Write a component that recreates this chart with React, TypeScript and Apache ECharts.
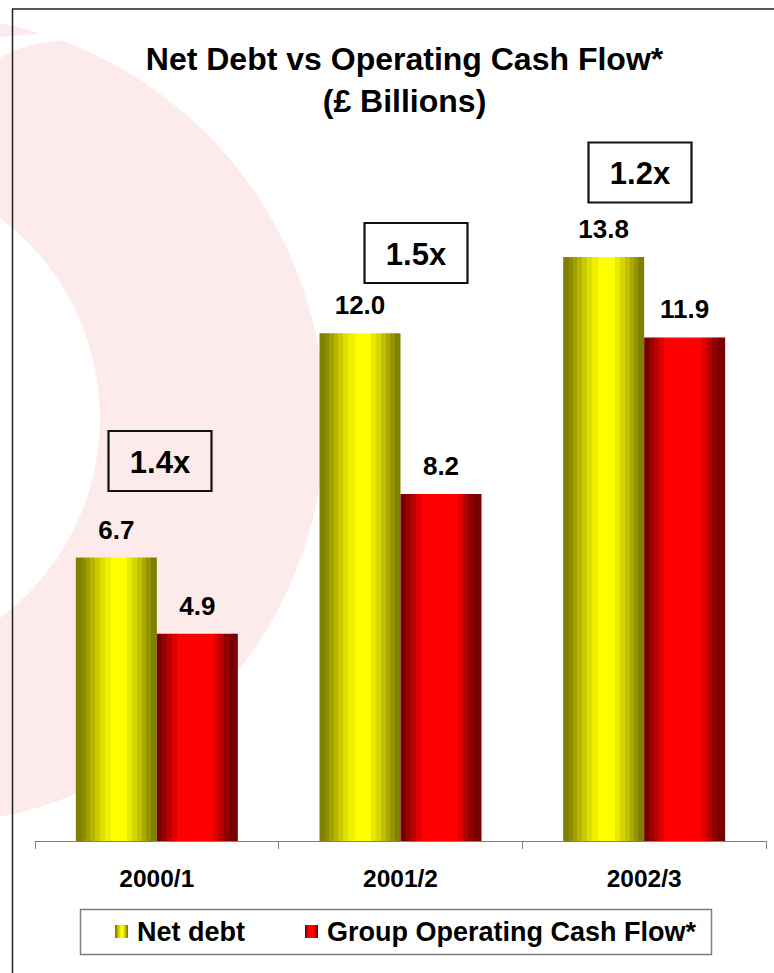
import React, { useEffect, useRef } from 'react';
import * as echarts from 'echarts';

const categories = ['2000/1', '2001/2', '2002/3'];
const netDebt = [6.7, 12.0, 13.8];
const cashFlow = [4.9, 8.2, 11.9];
const ratios = ['1.4x', '1.5x', '1.2x'];
const seriesNames = ['Net debt', 'Group Operating Cash Flow*'];
const titleLines = ['Net Debt vs Operating Cash Flow*', '(£ Billions)'];

// layout (positions of annotation boxes, pixel space)
const ratioBoxPos = [
  [108.5, 431],
  [364.5, 223],
  [588.5, 142.5],
];

const FONT = '"Liberation Sans", Arial, Helvetica, sans-serif';

type Band = [number, number, string];
function stepped(bands: Band[]) {
  const out: { offset: number; color: string }[] = [];
  bands.forEach(([a, b, c]) => {
    out.push({ offset: a, color: c });
    out.push({ offset: b, color: c });
  });
  return out;
}

const yellowBands: Band[] = [
  [0, 0.073, '#7f7f00'],
  [0.073, 0.121, '#8d8d00'],
  [0.121, 0.173, '#a0a000'],
  [0.173, 0.234, '#b5b500'],
  [0.234, 0.294, '#caca00'],
  [0.294, 0.355, '#dede00'],
  [0.355, 0.435, '#efef00'],
  [0.435, 0.637, '#ffff00'],
  [0.637, 0.698, '#eaea00'],
  [0.698, 0.758, '#d5d500'],
  [0.758, 0.819, '#c0c000'],
  [0.819, 0.871, '#a9a900'],
  [0.871, 0.927, '#949400'],
  [0.927, 1, '#7f7f00'],
];

const redBands: Band[] = [
  [0, 0.0625, '#780000'],
  [0.0625, 0.125, '#990000'],
  [0.125, 0.1875, '#bb0000'],
  [0.1875, 0.25, '#dd0000'],
  [0.25, 0.708, '#ff0000'],
  [0.708, 0.771, '#dd0000'],
  [0.771, 0.833, '#b40000'],
  [0.833, 0.896, '#920000'],
  [0.896, 1, '#780000'],
];

export default function App() {
  const ref = useRef<HTMLDivElement>(null);

  useEffect(() => {
    if (!ref.current) return;
    const chart = echarts.init(ref.current, undefined, { renderer: 'svg' });

    const labelStyle = {
      show: true,
      position: 'top' as const,
      distance: 15,
      fontFamily: FONT,
      fontSize: 26,
      fontWeight: 'bold' as const,
      color: '#000',
      formatter: (p: any) => Number(p.value).toFixed(1),
    };

    const ratioGraphics = ratios.map((r, i) => ({
      type: 'group',
      x: ratioBoxPos[i][0],
      y: ratioBoxPos[i][1],
      children: [
        {
          type: 'rect',
          shape: { x: 0, y: 0, width: 103, height: 60 },
          style: { fill: 'none', stroke: '#111', lineWidth: 2.2 },
        },
        {
          type: 'text',
          x: 51.5,
          y: 31,
          style: {
            text: r,
            fill: '#000',
            fontFamily: FONT,
            fontSize: 31,
            fontWeight: 'bold',
            align: 'center',
            verticalAlign: 'middle',
          },
        },
      ],
    }));

    chart.setOption({
      animation: false,
      backgroundColor: '#fff',
      grid: { left: 35, right: 8, top: 164, bottom: 132, containLabel: false },
      xAxis: {
        type: 'category',
        data: categories,
        axisLine: { show: true, lineStyle: { color: '#808080', width: 1 } },
        axisTick: { show: true, length: 8, lineStyle: { color: '#808080', width: 1 } },
        axisLabel: {
          margin: 25,
          fontFamily: FONT,
          fontSize: 24.5,
          fontWeight: 'bold',
          color: '#000',
        },
        splitLine: { show: false },
      },
      yAxis: {
        type: 'value',
        min: 0,
        max: 16,
        show: false,
        splitLine: { show: false },
      },
      legend: {
        data: seriesNames,
        left: 115,
        top: 918,
        padding: 0,
        itemWidth: 13,
        itemHeight: 13,
        itemGap: 60,
        icon: 'rect',
        textStyle: {
          fontFamily: FONT,
          fontSize: 27,
          fontWeight: 'bold',
          color: '#000',
          padding: [0, 0, 0, 4],
        },
      },
      series: [
        {
          type: 'bar',
          name: seriesNames[0],
          data: netDebt,
          barWidth: 81,
          barGap: '0%',
          z: 3,
          itemStyle: {
            color: new echarts.graphic.LinearGradient(0, 0, 1, 0, stepped(yellowBands)),
          },
          label: labelStyle,
        },
        {
          type: 'bar',
          name: seriesNames[1],
          data: cashFlow,
          barWidth: 81,
          barGap: '0%',
          z: 3,
          itemStyle: {
            color: new echarts.graphic.LinearGradient(0, 0, 1, 0, stepped(redBands)),
          },
          label: labelStyle,
        },
      ],
      graphic: [
        {
          type: 'circle',
          silent: true,
          z: -10,
          shape: { cx: -80, cy: 420, r: 405 },
          style: { fill: '#fdeaea' },
        },
        {
          type: 'circle',
          silent: true,
          z: -9,
          shape: { cx: -150, cy: 418, r: 250 },
          style: { fill: '#ffffff' },
        },
        {
          type: 'polygon',
          silent: true,
          z: -9,
          shape: {
            points: [
              [0, 37],
              [25, 35],
              [55, 32],
              [62, 40],
              [35, 44],
              [15, 50],
              [0, 58],
            ],
          },
          style: { fill: '#ffffff' },
        },
        {
          type: 'polyline',
          silent: true,
          z: 10,
          shape: { points: [[12.5, 973], [12.5, 9], [774, 9]] },
          style: { stroke: '#222', lineWidth: 1.5, fill: 'none' },
        },
        {
          type: 'text',
          x: 404.5,
          y: 58.5,
          style: {
            text: titleLines[0],
            fill: '#000',
            fontFamily: FONT,
            fontSize: 32,
            fontWeight: 'bold',
            align: 'center',
            verticalAlign: 'middle',
          },
        },
        {
          type: 'text',
          x: 404.5,
          y: 101,
          style: {
            text: titleLines[1],
            fill: '#000',
            fontFamily: FONT,
            fontSize: 32,
            fontWeight: 'bold',
            align: 'center',
            verticalAlign: 'middle',
          },
        },
        {
          type: 'rect',
          silent: true,
          shape: { x: 80.5, y: 909.5, width: 631, height: 45 },
          style: { fill: 'none', stroke: '#808080', lineWidth: 1.5 },
        },
        ...ratioGraphics,
      ],
    });

    return () => chart.dispose();
  }, []);

  return (
    <div
      ref={ref}
      style={{ position: 'absolute', left: 0, top: 0, width: 774, height: 973 }}
    />
  );
}
